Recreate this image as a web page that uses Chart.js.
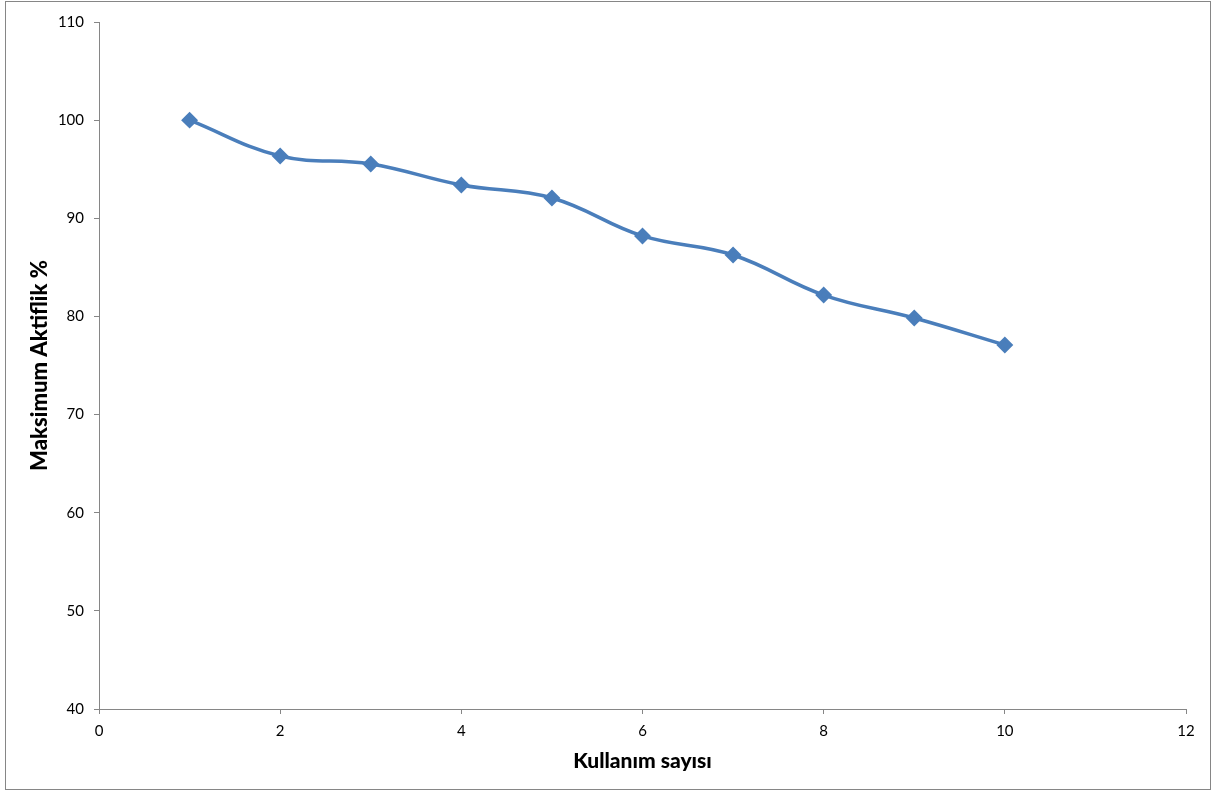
<!DOCTYPE html>
<html>
<head>
<meta charset="utf-8">
<script src="https://cdn.jsdelivr.net/npm/chart.js@4"></script>
<style>
  html, body { margin: 0; padding: 0; background: #fff; }
  #wrap { width: 1214px; height: 791px; position: relative; }
</style>
</head>
<body>
<div id="wrap"><canvas id="myChart" width="1214" height="791"></canvas></div>
<script>
// values
const uses = [1, 2, 3, 4, 5, 6, 7, 8, 9, 10]
const activity = [100, 96.35, 95.53, 93.39, 92.07, 88.2, 86.26, 82.18, 79.84, 77.09]
const xTicks = [0, 2, 4, 6, 8, 10, 12]
const yTicks = [40, 50, 60, 70, 80, 90, 100, 110]

const points = uses.map((u, i) => ({ x: u, y: activity[i] }))

// light grey frame round the whole chart, like the Excel chart border
const frame = {
  id: 'frame',
  beforeDraw(chart) {
    const c = chart.ctx
    c.save()
    c.fillStyle = '#fff'
    c.fillRect(0, 0, chart.width, chart.height)
    c.strokeStyle = '#868686'
    c.lineWidth = 1
    c.strokeRect(5.5, 1.5, 1205, 788)
    c.restore()
  }
}

const ctx = document.getElementById('myChart')
new Chart(ctx, {
  type: 'scatter',
  data: {
    datasets: [{
      label: 'Maksimum Aktiflik %',
      data: points,
      showLine: true,
      borderColor: '#4A7EBB',
      backgroundColor: '#4A7EBB',
      borderWidth: 3.5,
      tension: 0.4,
      pointStyle: 'rectRot',
      pointRadius: 6,
      pointHoverRadius: 6
    }]
  },
  options: {
    responsive: false,
    animation: false,
    layout: { padding: { top: 22, right: 28, left: 0, bottom: 0 } },
    plugins: {
      legend: { display: false },
      tooltip: { enabled: false }
    },
    scales: {
      x: {
        type: 'linear',
        min: 0,
        max: 12,
        afterBuildTicks: (s) => { s.ticks = xTicks.map(v => ({ value: v })) },
        afterFit: (s) => { s.height = 82 },
        grid: { drawOnChartArea: false, color: '#868686', tickLength: 5, tickColor: '#868686' },
        border: { color: '#868686', width: 1 },
        ticks: { color: '#000', padding: 8, font: { family: 'Lato', size: 15 } },
        title: {
          display: true,
          text: 'Kullanım sayısı',
          color: '#000',
          font: { family: 'Lato', size: 21, weight: '900' },
          padding: { top: 0, bottom: 17 }
        }
      },
      y: {
        min: 40,
        max: 110,
        afterBuildTicks: (s) => { s.ticks = yTicks.map(v => ({ value: v })) },
        afterFit: (s) => { s.width = 99 },
        grid: { drawOnChartArea: false, color: '#868686', tickLength: 5, tickColor: '#868686' },
        border: { color: '#868686', width: 1 },
        ticks: { color: '#000', padding: 10, font: { family: 'Lato', size: 15 } },
        title: {
          display: true,
          text: 'Maksimum Aktiflik %',
          color: '#000',
          font: { family: 'Lato', size: 22, weight: '900' },
          padding: { top: 27, bottom: 0 }
        }
      }
    }
  },
  plugins: [frame]
})
</script>
</body>
</html>
